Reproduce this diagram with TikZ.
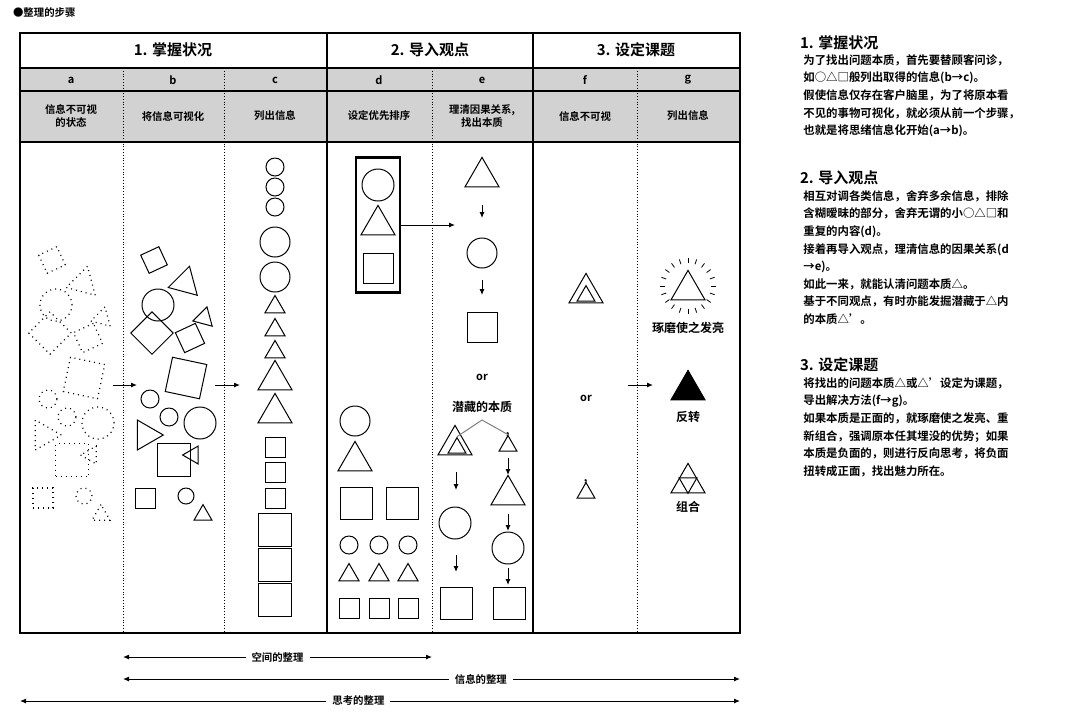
\documentclass[tikz,border=0pt]{standalone}
\usepackage{fontspec}
\setmainfont{Noto Sans CJK SC}[BoldFont={Noto Sans CJK SC Bold}]
\usetikzlibrary{shapes.geometric,calc,arrows.meta}
\tikzset{
  shp/.style={draw, inner sep=0pt, line width=0.5pt},
  tri/.style={shp, regular polygon, regular polygon sides=3, minimum size={#1*0.577pt}},
  circ/.style={shp, circle, minimum size={#1*0.5pt}},
  sq/.style={shp, rectangle, minimum size={#1*0.5pt}},
  dotshp/.style={dotted, line width=0.6pt},
  arr/.style={-{Latex[length=3pt,width=2.5pt]}, line width=0.5pt},
  sep/.style={densely dotted, line width=0.4pt},
  head/.style={font=\bfseries\fontsize{7.5}{9}\selectfont},
  small/.style={font=\bfseries\fontsize{5.2}{6.5}\selectfont, align=center},
  note/.style={font=\bfseries\fontsize{5.7}{8.8}\selectfont, align=left, anchor=north west, inner sep=0pt},
}
\begin{document}
\begin{tikzpicture}[x=0.5pt,y=-0.5pt]
\useasboundingbox (0,0) rectangle (1080,720);
% title
\node[small, anchor=west] (title) at (6,13) {●整理的步骤};
% table frame
\fill[gray!35] (20,68) rectangle (740,142);
\draw[line width=0.9pt] (20,33) rectangle (740,633);
\draw[line width=0.6pt] (20,68) -- (740,68) (20,91) -- (740,91) (20,142) -- (740,142);
\draw[line width=0.9pt] (327,33) -- (327,633) (533,33) -- (533,633);
\foreach \x in {123,224,432,637} \draw[sep] (\x,68) -- (\x,633);
% headings
\node[head] (h1) at (173,50) {1. 掌握状况};
\node[head] (h2) at (430,50) {2. 导入观点};
\node[head] (h3) at (636,50) {3. 设定课题};
\foreach \c/\x in {a/71,b/173,c/275,d/379,e/482,f/585,g/688}
  \node[small, font=\bfseries\fontsize{5.5}{6.5}\selectfont] (l\c) at (\x,80) {\c};
\node[small] (ta) at (71,116) {信息不可视\\的状态};
\node[small] (tb) at (173,116) {将信息可视化};
\node[small] (tc) at (275,116) {列出信息};
\node[small] (td) at (379,116) {设定优先排序};
\node[small] (te) at (482,116) {理清因果关系,\\找出本质};
\node[small] (tf) at (585,116) {信息不可视};
\node[small] (tg) at (688,116) {列出信息};
% columns a and b
\foreach \col/\dx/\st in {a/0/dotshp, b/102/solid}
  \foreach[count=\i] \s/\x/\y/\d/\r in {sq/52/260/20/25, tri/83/283/30/-15, circ/56/305/32/0,
      sq/50/333/30/45, tri/102/318/20/-15, sq/88/338/22/25, sq/84/378/35/-12,
      circ/48/399/18/0, circ/67/417/18/0, circ/98/423/32/0, tri/44/435/30/-90,
      sq/72/460/33/0, tri/91/455/18/90, sq/43/498/20/0, circ/84/496/16/0, tri/101/515/18/0}
    \node[\s=\d, rotate=\r, \st] (\col\i) at (\x+\dx,\y) {};
% column c
\foreach[count=\i] \s/\y/\d in {circ/167/18, circ/187/18, circ/207/18, circ/242/30, circ/277/30,
    tri/307/20, tri/330/20, tri/352/20, tri/380/34, tri/413/34,
    sq/447/20, sq/472/20, sq/498/20, sq/530/33, sq/565/33, sq/600/33}
  \node[\s=\d] (c\i) at (275,\y) {};
\coordinate (ab1) at (113,385); \coordinate (ab2) at (137,385);
\coordinate (bc1) at (215,385); \coordinate (bc2) at (240,385);
\draw[arr] (ab1) -- (ab2);
\draw[arr] (bc1) -- (bc2);
% column d
\node[shp, line width=1.1pt, minimum width=22pt, minimum height=67.5pt] (dbox) at (378,225) {};
\node[circ=32] (d1) at (378,185) {};
\node[tri=34] (d2) at (378,225) {};
\node[sq=30] (d3) at (378,268) {};
\coordinate (dend) at (455,225);
\draw[arr] (dbox.east |- dend) -- (dend);
\node[circ=30] (d4) at (355,421) {};
\node[tri=34] (d5) at (355,461) {};
\node[sq=32] (d6) at (356,503) {};
\node[sq=32] (d7) at (402,503) {};
\foreach[count=\i] \x in {349,379,408} {
  \node[circ=18] (dc\i) at (\x,545) {};
  \node[tri=20] (dt\i) at (\x,575) {};
  \node[sq=20] (ds\i) at (\x,608) {};
}
% column e
\node[tri=34] (e1) at (482,177) {};
\node[circ=30] (e2) at (482,253) {};
\node[sq=30] (e3) at (482,327) {};
\draw[arr] (482,205) -- (482,218);
\draw[arr] (482,280) -- (482,295);
\node[small, font=\bfseries\fontsize{5.5}{6.5}\selectfont] (eor) at (482,377) {or};
\node[small, font=\bfseries\fontsize{6}{7}\selectfont] (hid) at (482,407) {潜藏的本质};
\node[tri=34] (e4) at (455,445) {};
\node[tri=18] (e4i) at (457,448) {};
\node[tri=18] (e5) at (508,446) {};
\node[font=\bfseries\fontsize{7}{7}\selectfont, inner sep=0pt] (e5p) at (513,439) {'};
\draw[gray, line width=0.5pt] (e4i.corner 1) -- (482,420) -- (e5.corner 1);
\node[tri=34] (e6) at (508,495) {};
\node[circ=32] (e7) at (455,523) {};
\node[circ=32] (e8) at (508,548) {};
\node[sq=32] (e9) at (456,603) {};
\node[sq=32] (e10) at (509,603) {};
\draw[arr] (456,472) -- (456,490);
\draw[arr] (456,555) -- (456,572);
\draw[arr] (508,458) -- (508,475);
\draw[arr] (508,514) -- (508,531);
\draw[arr] (508,568) -- (508,585);
% column f
\node[tri=34] (f1) at (586,293) {};
\node[tri=18] (f1i) at (586,296) {};
\node[small, font=\bfseries\fontsize{5.5}{6.5}\selectfont] (for) at (586,398) {or};
\node[tri=18] (f2) at (586,493) {};
\node[font=\bfseries\fontsize{7}{7}\selectfont, inner sep=0pt] (f2p) at (591,486) {'};
\coordinate (fg1) at (628,385); \coordinate (fg2) at (653,385);
\draw[arr] (fg1) -- (fg2);
% column g
\node[tri=34] (g1) at (688,290) {};
\foreach \a in {0,18,...,342} \draw[line width=0.4pt] (688,286) ++(\a:23) -- ++(\a:5);
\node[small, font=\bfseries\fontsize{6}{7}\selectfont] (g1t) at (688,328) {琢磨使之发亮};
\node[tri=34, fill=black] (g2) at (688,390) {};
\node[small, font=\bfseries\fontsize{6}{7}\selectfont] (g2t) at (688,417) {反转};
\node[tri=34] (g3) at (688,483) {};
\draw[line width=0.5pt] ($(g3.corner 1)!.5!(g3.corner 2)$) -- ($(g3.corner 2)!.5!(g3.corner 3)$)
  -- ($(g3.corner 3)!.5!(g3.corner 1)$) -- cycle;
\node[small, font=\bfseries\fontsize{6}{7}\selectfont] (g3t) at (688,507) {组合};
% bottom arrows
\coordinate (s1) at (123,657); \coordinate (s2) at (432,657);
\coordinate (i1) at (123,679); \coordinate (i2) at (740,679);
\coordinate (t1) at (20,701); \coordinate (t2) at (740,701);
\draw[arr, {Latex[length=3pt,width=2.5pt]}-{Latex[length=3pt,width=2.5pt]}] (s1) -- node[small, fill=white, inner xsep=3pt] (sl) {空间的整理} (s2);
\draw[arr, {Latex[length=3pt,width=2.5pt]}-{Latex[length=3pt,width=2.5pt]}] (i1) -- node[pos=0.58, small, fill=white, inner xsep=3pt] (il) {信息的整理} (i2);
\draw[arr, {Latex[length=3pt,width=2.5pt]}-{Latex[length=3pt,width=2.5pt]}] (t1) -- node[pos=0.47, small, fill=white, inner xsep=3pt] (tl) {思考的整理} (t2);
% notes
\node[head, anchor=west] (n1) at (793,43) {1. 掌握状况};
\node[note] (n1t) at (803,54) {为了找出问题本质，首先要替顾客问诊，\\如○△□般列出取得的信息(b→c)。\\假使信息仅存在客户脑里，为了将原本看\\不见的事物可视化，就必须从前一个步骤，\\也就是将思绪信息化开始(a→b)。};
\node[head, anchor=west] (n2) at (793,178) {2. 导入观点};
\node[note] (n2t) at (803,190) {相互对调各类信息，舍弃多余信息，排除\\含糊暧昧的部分，舍弃无谓的小○△□和\\重复的内容(d)。\\接着再导入观点，理清信息的因果关系(d\\→e)。\\如此一来，就能认清问题本质△。\\基于不同观点，有时亦能发掘潜藏于△内\\的本质△'。};
\node[head, anchor=west] (n3) at (793,365) {3. 设定课题};
\node[note] (n3t) at (803,377) {将找出的问题本质△或△'设定为课题，\\导出解决方法(f→g)。\\如果本质是正面的，就琢磨使之发亮、重\\新组合，强调原本任其埋没的优势；如果\\本质是负面的，则进行反向思考，将负面\\扭转成正面，找出魅力所在。};
\end{tikzpicture}
\end{document}
